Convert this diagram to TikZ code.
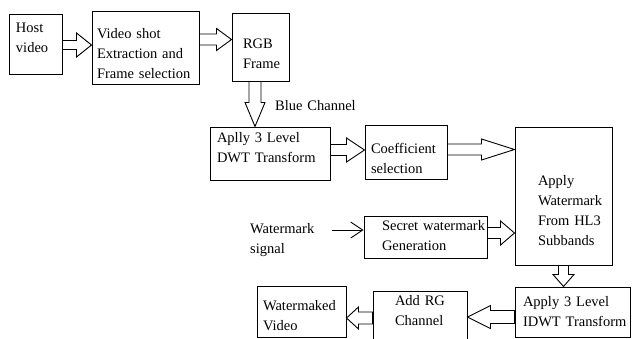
\documentclass[tikz,border=0pt]{standalone}
\usepackage{fontspec}
\setmainfont{Liberation Serif}
\usetikzlibrary{arrows.meta, calc}
\tikzset{
    lpad/.store in=\lpad,
    tdown/.store in=\tdown,
    tup/.store in=\tup,
    sw/.store in=\shaftw,
    hw/.store in=\headw,
    hl/.store in=\headl
}
\tikzstyle{txt} = [
    font=\fontsize{14.5}{20}\selectfont,
    align=left,
    inner sep=0pt,
    execute at begin node={\leftskip=\lpad\relax\rule{0pt}{\dimexpr 14pt+\tdown*2\relax}},
    execute at end node={\rule[\dimexpr -6pt-\tup*2\relax]{0pt}{0pt}}
]
\tikzstyle{block} = [txt, draw, line width=1pt]
\tikzstyle{fat} = [
    draw,
    fill=white,
    line width=0.9pt,
    to path={
        (\tikztostart) coordinate (hs) (\tikztotarget) coordinate (ht)
        ($(ht)!\headl!(hs)$) coordinate (hb)
        ($(hs)!\shaftw!90:(ht)$) -- ($(hb)!\shaftw!-90:(hs)$)
        -- ($(hb)!\headw!-90:(hs)$) -- (ht)
        -- ($(hb)!\headw!90:(hs)$) -- ($(hb)!\shaftw!90:(hs)$)
        -- ($(hs)!\shaftw!-90:(ht)$) -- cycle
    }
]
\tikzstyle{feed} = [-{Straight Barb[length=12pt, width=16pt]}, line width=0.9pt]

\begin{document}
\begin{tikzpicture}[x=1pt, y=-1pt, lpad=0pt, tdown=0pt, tup=0pt, sw=5pt, hw=12pt, hl=15pt]
    \useasboundingbox (0, 0) rectangle (636, 338);

    % Boxes.
    \node (host) [block, text width=53pt, minimum height=60pt, lpad=7pt, tup=5.5pt] at (35.5, 44) {Host\\video};
    \node (video) [block, text width=107pt, minimum height=72pt, lpad=5pt, tdown=6.5pt] at (145.5, 48) {Video shot\\Extraction and\\Frame selection};
    \node (rgb) [block, text width=57pt, minimum height=68pt, lpad=11pt, tdown=7.5pt] at (260.5, 47) {RGB\\Frame};

    \node (dwt) [block, text width=120pt, minimum height=53pt, lpad=7pt, tup=5pt] at (270, 153.5) {Aplly 3 Level\\DWT Transform};
    \node (coeff) [block, text width=82pt, minimum height=51pt, lpad=6pt, tdown=7pt] at (406, 152.5) {Coefficient\\selection};
    \node (embed) [block, text width=97pt, minimum height=138pt, lpad=23pt, tdown=15.5pt] at (563.5, 196) {Apply\\Watermark\\From HL3\\Subbands};

    \node (secret) [block, text width=123pt, minimum height=41pt, lpad=18pt, tup=1pt] at (425.5, 237.5) {Secret watermark\\Generation};

    \node (idwt) [block, text width=115pt, minimum height=50pt, lpad=8pt] at (572.5, 312) {Apply 3 Level\\IDWT Transform};
    \node (addrg) [block, text width=94pt, minimum height=54pt, lpad=22pt, tup=7.5pt] at (420, 319) {Add RG\\Channel};
    \node (output) [block, text width=89pt, minimum height=51pt, lpad=6pt, tdown=5pt] at (301.5, 311.5) {Watermaked\\Video};

    % Labels.
    \node (signal) [txt, text width=75pt, anchor=west] at (250, 239.5) {Watermark\\signal};
    \node (blue) [txt, text width=85pt, anchor=west] at (275, 106) {Blue Channel};
    \coordinate (sig) at (332, 230);

    % Arrows.
    \draw [fat, sw=4.5pt, hw=12pt, hl=15pt] ([yshift=-1pt]host.east) to ([yshift=-1pt]host.east -| video.west);
    \draw [fat, sw=5.5pt, hw=11pt, hl=15pt] ([yshift=8.5pt]video.east) to ([yshift=8.5pt]video.east -| rgb.west);
    \draw [fat, sw=6pt, hw=10pt, hl=24pt] ([xshift=-5.5pt]rgb.south) to ([xshift=-5.5pt]rgb.south |- dwt.north);
    \draw [fat, sw=5.5pt, hw=12pt, hl=18pt] ([yshift=3.5pt]dwt.east) to ([yshift=3.5pt]dwt.east -| coeff.west);
    \draw [fat, sw=5.5pt, hw=10.5pt, hl=33pt] ([yshift=3pt]coeff.east) to ([yshift=3pt]coeff.east -| embed.west);
    \draw [feed] (sig) -- (sig -| secret.west);
    \draw [fat, sw=5.5pt, hw=12pt, hl=14pt] ([yshift=4.5pt]secret.east) to ([yshift=4.5pt]secret.east -| embed.west);
    \draw [fat, sw=5pt, hw=10.5pt, hl=12pt] (embed.south) to (embed.south |- idwt.north);
    \draw [fat, sw=6.5pt, hw=11.5pt, hl=23pt] ([yshift=-5pt]idwt.west) to ([yshift=-5pt]idwt.west -| addrg.east);
    \draw [fat, sw=6pt, hw=11pt, hl=12pt] ([yshift=1pt]addrg.west) to ([yshift=1pt]addrg.west -| output.east);
\end{tikzpicture}
\end{document}
